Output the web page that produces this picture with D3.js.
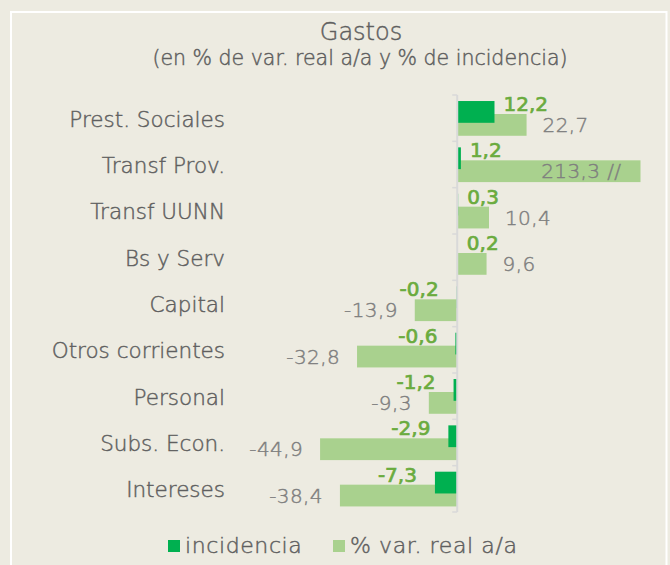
<!DOCTYPE html>
<html><head><meta charset="utf-8">
<script src="https://cdn.jsdelivr.net/npm/d3@7"></script>
<style>
html,body{margin:0;padding:0;background:#edebe1;}
svg{display:block;}
text{font-family:"DejaVu Sans",sans-serif;font-weight:200;}
text.thk{stroke-width:0.45px;}
text.bld{stroke-width:0.7px;}
</style></head>
<body>
<svg id="chart" width="670" height="565"></svg>
<script>
const categories = ["Prest. Sociales","Transf Prov.","Transf UUNN","Bs y Serv","Capital","Otros corrientes","Personal","Subs. Econ.","Intereses"];
const incidencia = [12.2, 1.2, 0.3, 0.2, -0.2, -0.6, -1.2, -2.9, -7.3];
const varReal = [22.7, 213.3, 10.4, 9.6, -13.9, -32.8, -9.3, -44.9, -38.4];
const brokenLabels = ["", "213,3 //", "", "", "", "", "", "", ""];
const seriesNames = ["incidencia", "% var. real a/a"];
const titleText = "Gastos";
const subtitleText = "(en % de var. real a/a y % de incidencia)";

const DARK = "#00b050", LIGHT = "#a9d18e", TXT = "#5f5f5f", GRAY = "#7f7f7f", GREEN = "#6aab3e";
const svg = d3.select("#chart");
svg.append("rect").attr("width",670).attr("height",565).attr("fill","#edebe1");
svg.append("rect").attr("x",11).attr("y",12).attr("width",655.5).attr("height",600)
  .attr("fill","#edebe1").attr("stroke","#ffffff").attr("stroke-width",2);

const x = d3.scaleLinear().domain([-50,60]).range([304.5,640.5]).clamp(true);
const y = d3.scaleBand().domain(categories).range([95,512]).padding(0);
const step = y.step();
const fmt = v => d3.format(".1f")(v).replace(".", ",").replace("\u2212", "-");

svg.append("text").attr("class","thk").attr("x",361).attr("y",40).attr("text-anchor","middle")
  .attr("font-size",24).attr("fill",TXT).attr("stroke",TXT).text(titleText);
svg.append("text").attr("class","thk").attr("x",360).attr("y",65).attr("text-anchor","middle")
  .attr("font-size",20.5).attr("fill",TXT).attr("stroke",TXT).text(subtitleText);

const rows = categories.map((c,i)=>({c, inc:incidencia[i], vr:varReal[i], brk:brokenLabels[i]}));

// light bars
svg.append("g").selectAll("rect").data(rows).join("rect")
  .attr("x", d=>Math.min(x(0),x(d.vr))).attr("width", d=>Math.abs(x(d.vr)-x(0)))
  .attr("y", d=>y(d.c)+step*0.41).attr("height", step*0.47).attr("fill", LIGHT);
// dark bars
svg.append("g").selectAll("rect").data(rows).join("rect")
  .attr("x", d=>Math.min(x(0),x(d.inc))).attr("width", d=>Math.abs(x(d.inc)-x(0)))
  .attr("y", d=>y(d.c)+step*0.13).attr("height", step*0.47).attr("fill", DARK);

// axis
const ag = svg.append("g").attr("transform",`translate(${x(0)},0)`);
ag.append("line").attr("x1",0).attr("x2",0).attr("y1",95).attr("y2",512).attr("stroke","#d9d9d9").attr("stroke-width",2);
const bounds = d3.range(categories.length+1).map(i=>95+i*step);
ag.selectAll("line.t").data(bounds).join("line").attr("class","t")
  .attr("x1",-5).attr("x2",0).attr("y1",d=>d).attr("y2",d=>d).attr("stroke","#d9d9d9").attr("stroke-width",1.5);

// category labels
svg.append("g").selectAll("text").data(rows).join("text").attr("class","thk")
  .attr("x",225).attr("y",d=>y(d.c)+step/2+8.5).attr("text-anchor","end")
  .attr("font-size",21.5).attr("fill",TXT).attr("stroke",TXT).text(d=>d.c);

// incidencia labels
svg.append("g").selectAll("text").data(rows).join("text").attr("class","bld")
  .attr("x", d=> d.inc>=0 ? x(d.inc)+9 : x(d.inc)-18)
  .attr("text-anchor", d=> d.inc>=0 ? "start":"end")
  .attr("y", d=>y(d.c)+16).attr("font-size",20).style("font-weight",400)
  .attr("fill",GREEN).attr("stroke",GREEN).text(d=>fmt(d.inc));

// var real labels
svg.append("g").selectAll("text").data(rows).join("text").attr("class","thk")
  .attr("x", d=> d.brk ? x(d.vr)-19 : (d.vr>=0 ? x(d.vr)+16 : x(d.vr)-17))
  .attr("text-anchor", d=> d.brk ? "end" : (d.vr>=0 ? "start":"end"))
  .attr("y", d=>y(d.c)+37).attr("font-size",20).attr("letter-spacing",0.4)
  .attr("fill",GRAY).attr("stroke",GRAY).text(d=> d.brk || fmt(d.vr));

// legend
const lg = svg.append("g");
lg.append("rect").attr("x",168).attr("y",540).attr("width",12).attr("height",12).attr("fill",DARK);
lg.append("text").attr("class","thk").attr("x",185).attr("y",553).attr("font-size",22).attr("letter-spacing",0.6).attr("fill",TXT).attr("stroke",TXT).text(seriesNames[0]);
lg.append("rect").attr("x",333).attr("y",540).attr("width",12).attr("height",12).attr("fill",LIGHT);
lg.append("text").attr("class","thk").attr("x",350).attr("y",553).attr("font-size",22).attr("letter-spacing",0.6).attr("fill",TXT).attr("stroke",TXT).text(seriesNames[1]);
</script>
</body></html>
